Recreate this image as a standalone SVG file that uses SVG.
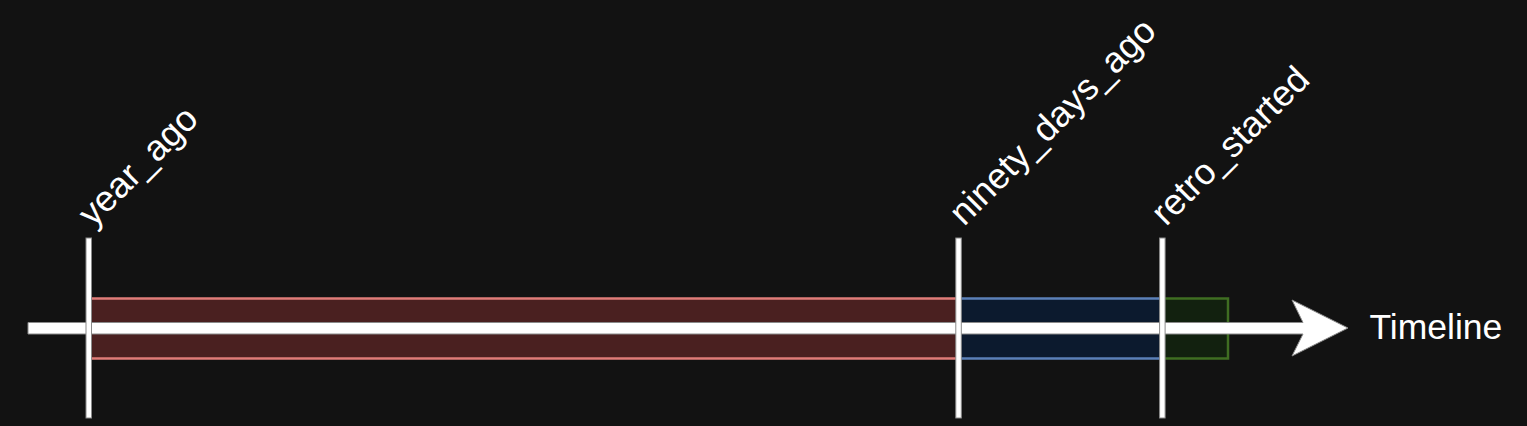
<svg xmlns="http://www.w3.org/2000/svg" width="1527" height="426" viewBox="0 0 1527 426">
<style>
.lbl{font-family:"Liberation Sans",Arial,sans-serif;font-size:35.5px;fill:#ffffff}
.rot{font-size:36.3px}
.tick{fill:#ffffff;stroke:#8a8a8a;stroke-width:1}
</style>
<rect x="0" y="0" width="1527" height="426" fill="#121212"/>
<g id="period-year">
<rect x="89" y="298.5" width="869" height="60" fill="#4a2020" stroke="#e07c78" stroke-width="2.5"/>
</g>
<g id="period-ninety">
<rect x="958" y="298.5" width="204" height="60" fill="#0c1a2e" stroke="#5b80b8" stroke-width="2.5"/>
</g>
<g id="period-retro">
<rect x="1162" y="298.5" width="66" height="60" fill="#12210f" stroke="#3f6e22" stroke-width="2.5"/>
</g>
<g id="connectors">
<path d="M28,322.5 L1303,322.5 L1292,300 L1348,328 L1292,356 L1303,334 L28,334 Z" fill="#ffffff" stroke="#8a8a8a" stroke-width="1"/>
</g>
<g id="timeline-label">
<text class="lbl" x="1369.5" y="338.5">Timeline</text>
</g>
<g id="tick-year_ago">
<rect class="tick" x="86" y="238" width="5.5" height="180"/>
<text class="lbl rot" transform="translate(93,228) rotate(-45)">year_ago</text>
</g>
<g id="tick-ninety_days_ago">
<rect class="tick" x="955.8" y="238" width="5.5" height="180"/>
<text class="lbl rot" transform="translate(964,227) rotate(-45)">ninety_days_ago</text>
</g>
<g id="tick-retro_started">
<rect class="tick" x="1159.6" y="238" width="5.5" height="180"/>
<text class="lbl rot" transform="translate(1166,227) rotate(-45)">retro_started</text>
</g>
</svg>
